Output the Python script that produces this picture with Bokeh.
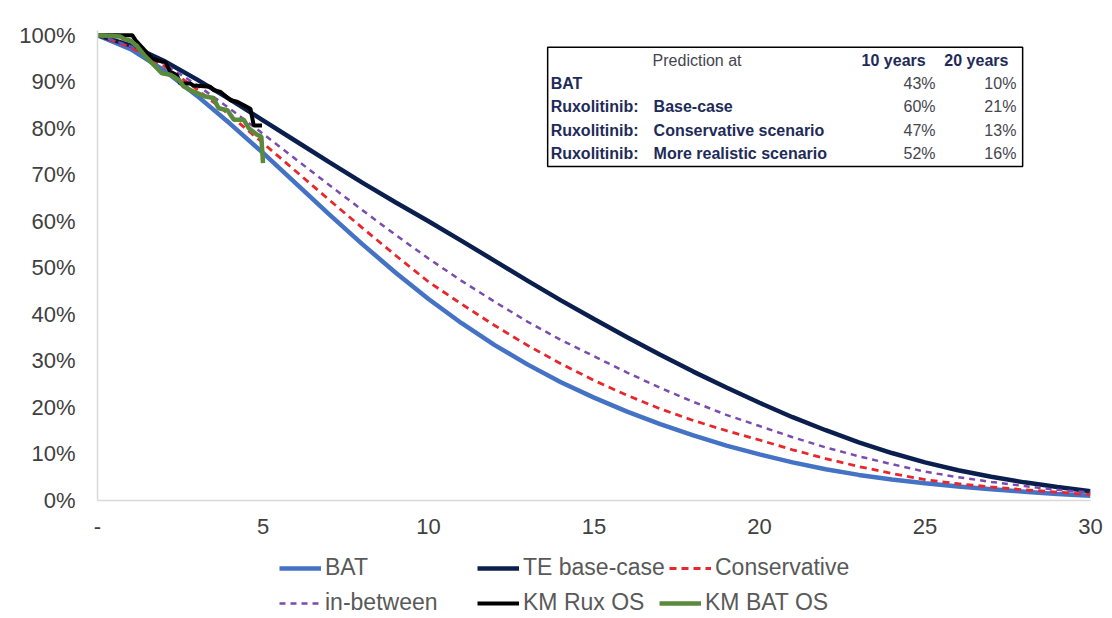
from bokeh.plotting import figure
from bokeh.models import Range1d, FixedTicker, Legend, LegendItem
from bokeh.layouts import column
from bokeh.core.properties import value
from bokeh.embed import file_html
from bokeh.resources import INLINE

# ---------------- data ----------------
years = list(range(31))
bat = [1.000, 0.970, 0.925, 0.870, 0.810, 0.747, 0.681, 0.615, 0.551, 0.490, 0.433,
       0.381, 0.334, 0.292, 0.254, 0.221, 0.191, 0.164, 0.140, 0.118, 0.099,
       0.082, 0.067, 0.055, 0.045, 0.037, 0.030, 0.024, 0.019, 0.014, 0.010]
te_base = [1.000, 0.978, 0.945, 0.905, 0.862, 0.817, 0.772, 0.727, 0.683, 0.641, 0.600,
           0.558, 0.515, 0.472, 0.430, 0.390, 0.351, 0.313, 0.277, 0.243, 0.210,
           0.179, 0.151, 0.125, 0.102, 0.082, 0.065, 0.051, 0.039, 0.029, 0.020]
conservative = [1.000, 0.974, 0.934, 0.884, 0.828, 0.768, 0.707, 0.646, 0.586, 0.527, 0.470,
                0.422, 0.376, 0.333, 0.294, 0.258, 0.226, 0.197, 0.172, 0.150, 0.130,
                0.109, 0.090, 0.073, 0.058, 0.045, 0.036, 0.029, 0.023, 0.018, 0.013]
in_between = [1.000, 0.976, 0.939, 0.893, 0.842, 0.788, 0.733, 0.678, 0.624, 0.571, 0.520,
              0.472, 0.427, 0.384, 0.345, 0.310, 0.275, 0.242, 0.212, 0.184, 0.160,
              0.136, 0.114, 0.095, 0.078, 0.062, 0.050, 0.040, 0.031, 0.023, 0.017]

km_rux_t = [0, 1.05, 1.15, 1.65, 1.8, 2.05, 2.2, 2.4, 2.5, 2.8, 2.9, 3.41, 3.51, 3.72,
            4.02, 4.22, 4.62, 4.72, 4.97]
km_rux_s = [1.0, 1.0, 0.989, 0.95, 0.946, 0.942, 0.921, 0.914, 0.896, 0.896, 0.892, 0.889,
            0.882, 0.878, 0.86, 0.857, 0.842, 0.806, 0.806]
km_bat_t = [0, 0.69, 0.8, 1.0, 1.2, 1.45, 1.7, 1.95, 2.2, 2.46, 2.6, 2.8, 3.26, 3.5, 3.66,
            3.92, 4.12, 4.42, 4.57, 4.82, 4.95, 5.0]
km_bat_s = [1.0, 0.997, 0.992, 0.988, 0.976, 0.954, 0.936, 0.918, 0.915, 0.904, 0.89, 0.882,
            0.868, 0.865, 0.843, 0.839, 0.818, 0.818, 0.80, 0.786, 0.782, 0.725]

x_ticks = [0, 5, 10, 15, 20, 25, 30]
x_tick_labels = ["-", "5", "10", "15", "20", "25", "30"]
y_ticks = [0.0, 0.1, 0.2, 0.3, 0.4, 0.5, 0.6, 0.7, 0.8, 0.9, 1.0]
y_tick_labels = ["0%", "10%", "20%", "30%", "40%", "50%", "60%", "70%", "80%", "90%", "100%"]

series_names = ["BAT", "TE base-case", "Conservative", "in-between", "KM Rux OS", "KM BAT OS"]

table_header = ["Prediction at", "10 years", "20 years"]
table_group = ["BAT", "Ruxolitinib:", "Ruxolitinib:", "Ruxolitinib:"]
table_scenario = ["", "Base-case", "Conservative scenario", "More realistic scenario"]
table_10y = ["43%", "60%", "47%", "52%"]
table_20y = ["10%", "21%", "13%", "16%"]

# ---------------- styles ----------------
FONT = "Liberation Sans"
styles = {
    "BAT": dict(line_color="#4472C4", line_width=4.5),
    "TE base-case": dict(line_color="#0B1F4E", line_width=4.5),
    "Conservative": dict(line_color="#E8262B", line_width=2.8, line_dash="7 5"),
    "in-between": dict(line_color="#7B4BB0", line_width=2.5, line_dash="6 5"),
    "KM Rux OS": dict(line_color="#000000", line_width=4),
    "KM BAT OS": dict(line_color="#5A8A3C", line_width=4.5),
}

# ---------------- main figure ----------------
p = figure(width=1112, height=550, x_range=Range1d(0, 30), y_range=Range1d(0, 1.01),
           output_backend="svg", toolbar_location=None,
           min_border_left=97, min_border_right=22, min_border_top=30, min_border_bottom=50)
p.outline_line_color = None
p.xgrid.visible = False
p.ygrid.visible = False

for ax in (p.xaxis[0], p.yaxis[0]):
    ax.axis_line_color = "#D9D9D9"
    ax.axis_line_width = 1.5
    ax.major_tick_line_color = None
    ax.minor_tick_line_color = None
    ax.major_tick_out = 0
    ax.major_label_text_font = FONT
    ax.major_label_text_font_size = "22px"
    ax.major_label_text_color = "#404040"

p.xaxis[0].ticker = FixedTicker(ticks=x_ticks)
p.xaxis[0].major_label_overrides = {t: l for t, l in zip(x_ticks, x_tick_labels)}
p.xaxis[0].major_label_standoff = 18
p.yaxis[0].ticker = FixedTicker(ticks=y_ticks)
p.yaxis[0].major_label_overrides = {t: l for t, l in zip(y_ticks, y_tick_labels)}
p.yaxis[0].major_label_standoff = 22

p.line(years, bat, **styles["BAT"])
p.line(years, te_base, **styles["TE base-case"])
p.line(years, conservative, **styles["Conservative"])
p.line(years, in_between, **styles["in-between"])
p.line(km_rux_t, km_rux_s, **styles["KM Rux OS"])
p.line(km_bat_t, km_bat_s, **styles["KM BAT OS"])

# ---------------- table box ----------------
p.quad(left=[13.6], right=[27.95], top=[0.974], bottom=[0.718],
       fill_color="white", line_color="#000000", line_width=1.5)

hdr_y = 0.946
row_y = [0.897, 0.847, 0.796, 0.746]
bold_col = "#1E2B58"
reg_col = "#45454F"
common = dict(text_font=value(FONT), text_font_size="16px", text_baseline="middle")
p.text(x=[16.77], y=[hdr_y], text=[table_header[0]], text_color=reg_col,
       text_align="left", **common)
p.text(x=[25.02, 27.52], y=[hdr_y, hdr_y], text=table_header[1:], text_font_style="bold",
       text_color=bold_col, text_align="right", **common)
p.text(x=[13.69] * 4, y=row_y, text=table_group, text_font_style="bold",
       text_color=bold_col, text_align="left", **common)
p.text(x=[16.8] * 4, y=row_y, text=table_scenario, text_font_style="bold",
       text_color=bold_col, text_align="left", **common)
p.text(x=[25.32] * 4, y=row_y, text=table_10y, text_color=reg_col, text_align="right", **common)
p.text(x=[27.76] * 4, y=row_y, text=table_20y, text_color=reg_col, text_align="right", **common)

# ---------------- legend figure (Excel-like irregular layout) ----------------
q = figure(width=1112, height=68, x_range=Range1d(0, 1), y_range=Range1d(0, 1),
           output_backend="svg", toolbar_location=None,
           min_border_left=97, min_border_right=22, min_border_top=0, min_border_bottom=0)
q.axis.visible = False
q.xgrid.visible = False
q.ygrid.visible = False
q.outline_line_color = None

# legend offsets in pixels from the bottom-left of the (aligned) frame at x=97
legend_pos = {
    "BAT": (182, 37), "TE base-case": (380, 37), "Conservative": (572, 37),
    "in-between": (182, 2), "KM Rux OS": (380, 2), "KM BAT OS": (562, 2),
}
for name in series_names:
    r = q.line(x=[-5, -4], y=[-5, -5], **styles[name])  # off-view stand-in for the key
    leg = Legend(items=[LegendItem(label=name, renderers=[r])], location=legend_pos[name],
                 orientation="horizontal", border_line_color=None, background_fill_alpha=0,
                 padding=0, margin=0, spacing=0, glyph_width=42, glyph_height=24,
                 label_height=24, label_standoff=4, label_text_font=FONT,
                 label_text_font_size="23px", label_text_color="#595959")
    q.add_layout(leg)

layout = column(p, q, spacing=0)
open("out.html", "w").write(file_html(layout, INLINE))
